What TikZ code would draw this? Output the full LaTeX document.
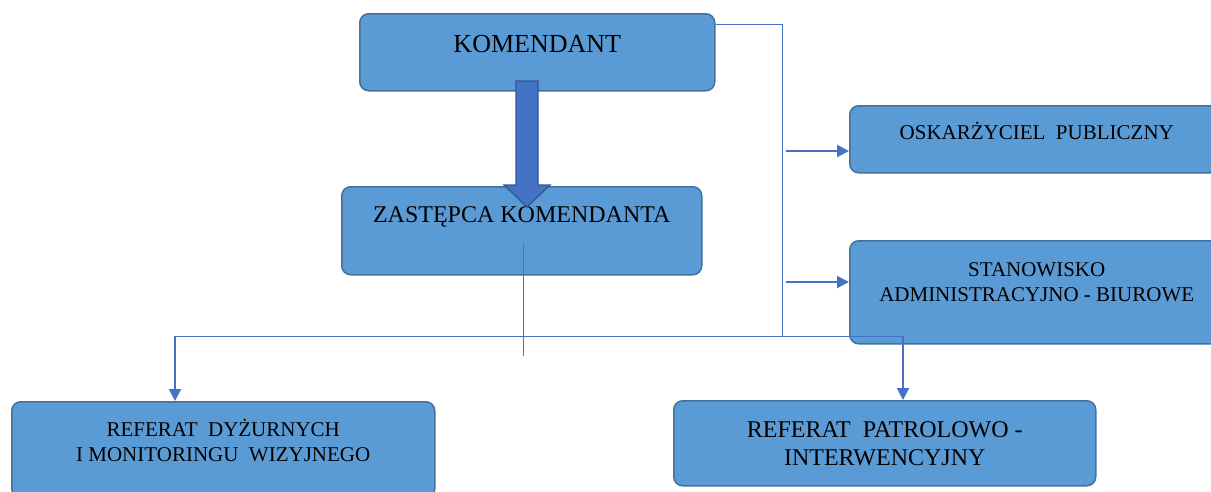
\documentclass[tikz,border=0pt]{standalone}
\usepackage{fontspec}
\setmainfont{Liberation Serif}
\usetikzlibrary{arrows.meta}

\definecolor{boxfill}{HTML}{5B9BD5}
\definecolor{boxline}{HTML}{41719C}
\definecolor{linkblue}{HTML}{4472C4}
\definecolor{arrowline}{HTML}{2F5597}

\tikzset{
  unit/.style={draw=boxline, fill=boxfill, line width=1.5pt, rounded corners=9pt,
    anchor=north west, inner sep=0pt, align=center},
  link/.style={draw=linkblue, line width=1pt},
  linkarrow/.style={draw=linkblue, line width=2pt, -{Triangle[length=12pt,width=12pt]}},
}

\begin{document}
\begin{tikzpicture}[x=1pt,y=-1pt]

\clip (0,0) rectangle (1211,491);

\node[unit, minimum width=355, minimum height=77, font=\fontsize{26}{30}\selectfont,
  text height=18, text depth=18] (kom) at (359,13) {KOMENDANT};
\node[unit, minimum width=360, minimum height=88, font=\fontsize{24}{28}\selectfont,
  text height=17, text depth=33] (zas) at (341,186) {ZASTĘPCA KOMENDANTA};
\node[unit, minimum width=374, minimum height=67, font=\fontsize{21}{25}\selectfont,
  text height=15, text depth=15] (osk) at (849,105) {OSKARŻYCIEL\ \ PUBLICZNY};
\node[unit, minimum width=374, minimum height=103, font=\fontsize{21}{25}\selectfont,
  text height=40, text depth=21] (sta) at (849,240) {STANOWISKO\\ADMINISTRACYJNO - BIUROWE};
\node[unit, minimum width=423, minimum height=96, font=\fontsize{21}{25}\selectfont,
  text height=40, text depth=16] (dyz) at (11,401) {REFERAT\ \ DYŻURNYCH\\I MONITORINGU\ \ WIZYJNEGO};
\node[unit, minimum width=422, minimum height=85, font=\fontsize{24}{28}\selectfont,
  text height=45, text depth=0] (pat) at (673,400) {REFERAT\ \ PATROLOWO -\\INTERWENCYJNY};

\draw[draw=arrowline, fill=linkblue, line width=1.2pt] (516,81) -- (538,81) -- (538,185)
  -- (550,185) -- (527,207) -- (504,185) -- (516,185) -- cycle;

\coordinate (trunk) at (782,24);
\coordinate (busW) at (175,336);
\coordinate (busE) at (903,336);
\coordinate (o1) at (786,151);
\coordinate (o2) at (786,282);
\coordinate (z1) at (523,243);
\coordinate (z2) at (523,356);

\draw[link] (kom.east |- trunk) -- (trunk) -- (trunk |- busW);
\draw[link] (busW) -- (busE);
\draw[link] (z1) -- (z2);
\draw[linkarrow] (o1) -- (o1 -| osk.west);
\draw[linkarrow] (o2) -- (o2 -| sta.west);
\draw[linkarrow] (busW) -- (dyz.north -| busW);
\draw[linkarrow] (busE) -- (pat.north -| busE);

\end{tikzpicture}
\end{document}
